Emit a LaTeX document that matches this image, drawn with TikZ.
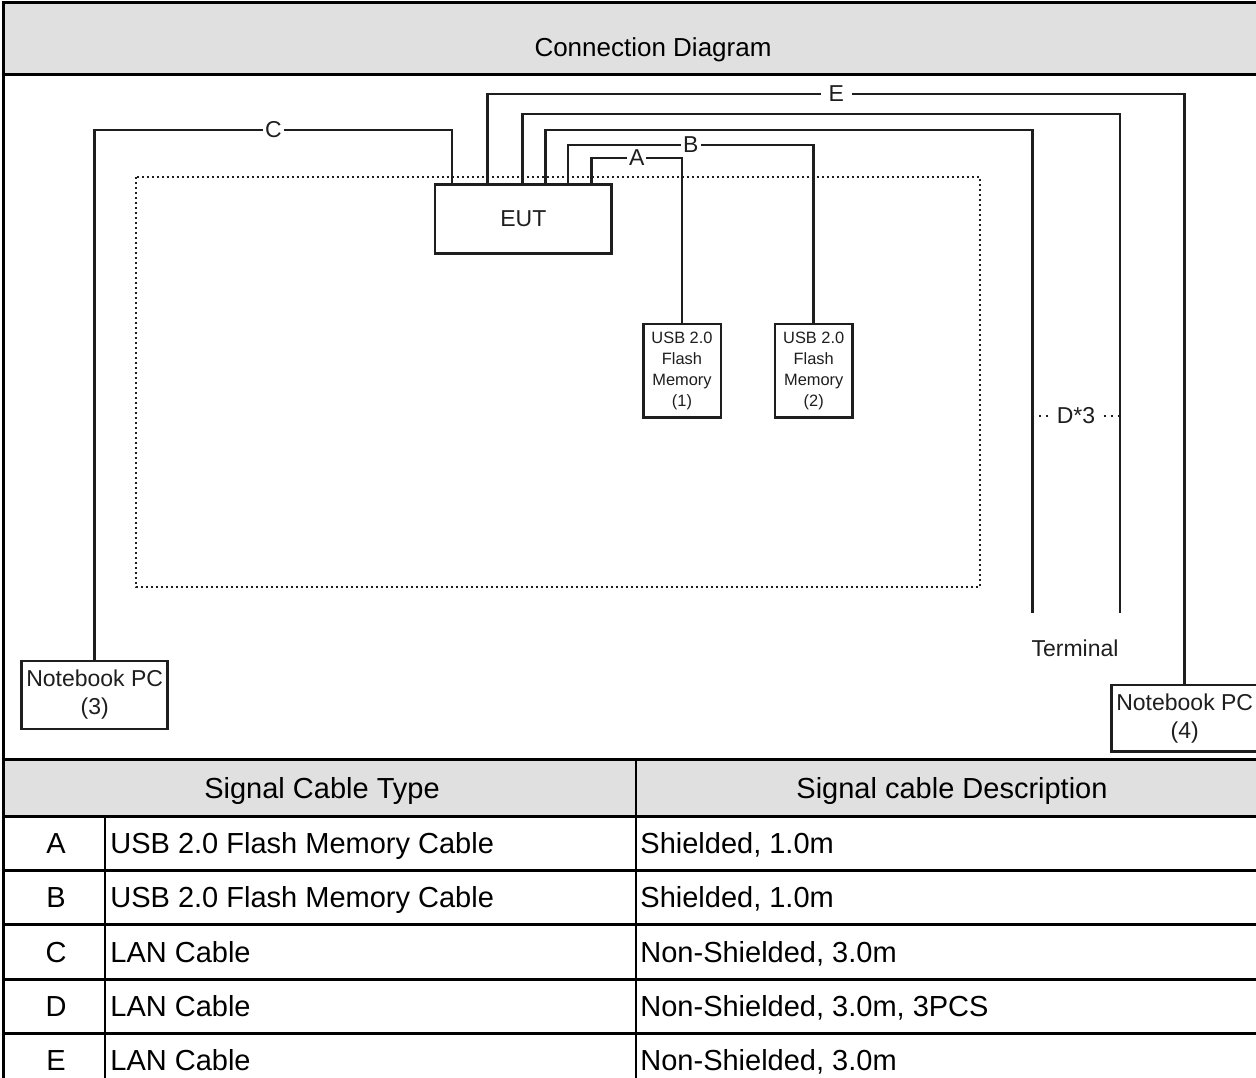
\documentclass[tikz,border=0pt]{standalone}
\usepackage{fontspec}
\setmainfont{Liberation Sans}
\usetikzlibrary{positioning}
\definecolor{hdrgray}{RGB}{224,224,224}
\definecolor{ink}{RGB}{30,30,30}
\newcommand{\lblfont}{\fontsize{11.5}{14}\selectfont}
\newcommand{\usbfont}{\fontsize{8.2}{10.5}\selectfont}
\newcommand{\cellfont}{\fontsize{14.5}{17}\selectfont}

\begin{document}
\begin{tikzpicture}[x=0.5pt, y=-0.5pt,
    frame/.style={line width=1.5pt, black},
    divider/.style={line width=1pt, black},
    cable/.style={line width=1.3pt, ink},
    unit/.style={rectangle, draw=ink, line width=1.3pt, fill=white, inner sep=0pt, align=center, text=ink},
    cablelbl/.style={fill=white, inner xsep=1pt, inner ysep=0pt, text=ink, font=\lblfont}]
    \useasboundingbox (0,0) rectangle (1256,1077);

    % Title band and table header band
    \fill[hdrgray] (3,2) rectangle (1300,74);
    \fill[hdrgray] (3,759) rectangle (1300,816);
    \node[anchor=base, font=\fontsize{13}{16}\selectfont] (title) at (653,56) {Connection Diagram};

    % Test table (dotted)
    \draw[line width=1.3pt, ink, dash pattern=on 1.2pt off 1.3pt] (136,177) rectangle (980,587);

    % Equipment
    \node[unit, minimum width=88.3pt, minimum height=34.5pt, font=\lblfont] (eut) at (523.3,218.8) {EUT};
    \node[unit, minimum width=38.8pt, minimum height=46.7pt, font=\usbfont] (usb1) at (682,370.7) {USB 2.0\\Flash\\Memory\\(1)};
    \node[unit, minimum width=38.8pt, minimum height=46.7pt, font=\usbfont] (usb2) at (813.7,370.7) {USB 2.0\\Flash\\Memory\\(2)};
    \node[unit, minimum width=73pt, minimum height=34pt, font=\lblfont] (nb3) at (94.7,695) {Notebook PC\\(3)};
    \node[unit, minimum width=73pt, minimum height=33.4pt, font=\lblfont] (nb4) at (1184.7,718.3) {Notebook PC\\(4)};
    \node[text=ink, font=\lblfont] (term) at (1075,648) {Terminal};

    % Ports on the EUT and terminal ends
    \coordinate (pC) at ([xshift=9.2pt]eut.north west);
    \coordinate (pE) at ([xshift=27pt]eut.north west);
    \coordinate (pD1) at ([xshift=44.5pt]eut.north west);
    \coordinate (pD2) at ([xshift=55.9pt]eut.north west);
    \coordinate (pB) at ([xshift=67.2pt]eut.north west);
    \coordinate (pA) at ([xshift=78.9pt]eut.north west);
    \coordinate (tD1) at (1120,613);
    \coordinate (tD2) at (1032.3,613);

    % Cables
    \draw[cable] (pA) -- ++(0,-25) -| node[cablelbl, pos=0.25] {A} (usb1.north);
    \draw[cable] (pB) -- ++(0,-38) -| node[cablelbl, pos=0.25] {B} (usb2.north);
    \draw[cable] (pC) -- ++(0,-53) -| node[cablelbl, pos=0.25] {C} (nb3.north);
    \draw[cable] (pD2) -- ++(0,-53) -| (tD2);
    \draw[cable] (pD1) -- ++(0,-69) -| (tD1);
    \draw[cable] (pE) -- ++(0,-89) -| node[cablelbl, pos=0.25, inner xsep=4pt] {E} (nb4.north);

    % D*3 label
    \node[text=ink, font=\lblfont, inner xsep=4pt] (dlbl) at (1076,416) {D*3};
    \draw[line width=1pt, ink, dash pattern=on 1pt off 2.5pt] (dlbl.west) -- (dlbl.west -| tD2);
    \draw[line width=1pt, ink, dash pattern=on 1pt off 2.5pt] (dlbl.east) -- (dlbl.east -| tD1);

    % Frame and table rules
    \draw[frame] (3,1080) -- (3,2) -- (1300,2);
    \foreach \y in {74,759,816,870,924.5,979,1033}
        \draw[frame] (3,\y) -- (1300,\y);
    \draw[divider] (636,759) -- (636,1080);
    \draw[divider] (105,816) -- (105,1080);

    % Table text
    \node[anchor=base, font=\cellfont] (hdtype) at (322,798) {Signal Cable Type};
    \node[anchor=base, font=\cellfont] (hddesc) at (952,798) {Signal cable Description};
    \foreach \y/\k/\ty/\ds in {843/A/{USB 2.0 Flash Memory Cable}/{Shielded, 1.0m},
                              897/B/{USB 2.0 Flash Memory Cable}/{Shielded, 1.0m},
                              952/C/{LAN Cable}/{Non-Shielded, 3.0m},
                              1006/D/{LAN Cable}/{Non-Shielded, 3.0m, 3PCS},
                              1060/E/{LAN Cable}/{Non-Shielded, 3.0m}}{
        \node[anchor=base, font=\cellfont] (key\k) at (56,\y+10) {\k};
        \node[anchor=base west, inner sep=0pt, font=\cellfont] (type\k) at (110,\y+10) {\ty};
        \node[anchor=base west, inner sep=0pt, font=\cellfont] (desc\k) at (640,\y+10) {\ds};
    }
\end{tikzpicture}
\end{document}
